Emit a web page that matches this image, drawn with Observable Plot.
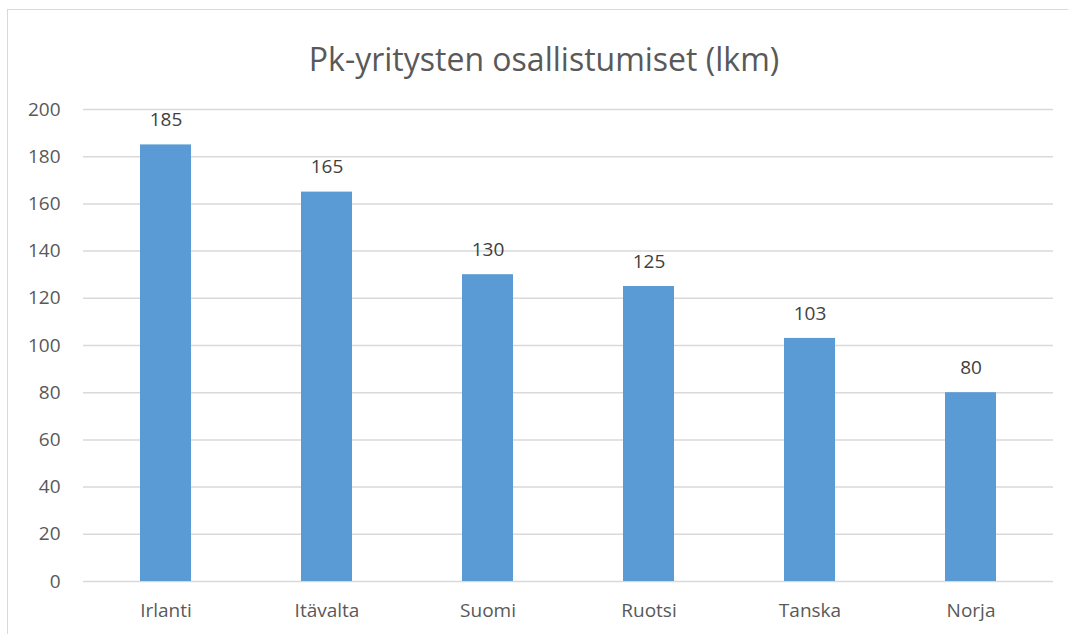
<!DOCTYPE html>
<html><head><meta charset="utf-8">
<script src="https://cdn.jsdelivr.net/npm/d3@7"></script>
<script src="https://cdn.jsdelivr.net/npm/@observablehq/plot@0.6"></script>
<style>
html,body{margin:0;padding:0;background:#fff;}
#wrap{position:relative;width:1068px;height:634px;overflow:hidden;font-family:"Open Sans",sans-serif;}
#frame{position:absolute;left:7px;top:9px;width:1100px;height:700px;border:1.5px solid #d9d9d9;box-sizing:border-box;}
#title{position:absolute;left:0;top:37px;width:1068px;padding-left:20px;box-sizing:border-box;text-align:center;font-size:32px;color:#595959;line-height:44px;}
#chart{position:absolute;left:0;top:90px;}
</style></head>
<body>
<div id="wrap"><div id="frame"></div><div id="title">Pk-yritysten osallistumiset (lkm)</div><div id="chart"></div></div>
<script>
const countries = ["Irlanti","Itävalta","Suomi","Ruotsi","Tanska","Norja"];
const values = [185,165,130,125,103,80];
const yTicks = [0,20,40,60,80,100,120,140,160,180,200];
const data = countries.map((c,i)=>({country:c, value:values[i]}));
const plot = Plot.plot({
  width:1068, height:544,
  marginLeft:83, marginRight:15, marginTop:19, marginBottom:53,
  style:{fontFamily:"Open Sans, sans-serif", fontSize:"19px", color:"#595959", background:"transparent"},
  x:{domain:countries, label:null, paddingInner:0.685, paddingOuter:0.3425, tickSize:0, tickPadding:22},
  y:{domain:[0,200], ticks:yTicks, label:null, tickSize:0, tickPadding:23},
  marks:[
    Plot.gridY(yTicks,{stroke:"#d9d9d9", strokeOpacity:1, strokeWidth:1.5}),
    Plot.barY(data,{x:"country", y:"value", fill:"#5b9bd5"}),
    Plot.text(data,{x:"country", y:"value", text:d=>String(d.value), dy:-25, fill:"#404040", fontSize:19}),
    Plot.axisX({tickSize:0, tickPadding:22, fontSize:19, fill:"#595959"}),
    Plot.axisY({ticks:yTicks, tickSize:0, tickPadding:23, fontSize:19, fill:"#595959"})
  ]
});
document.getElementById("chart").appendChild(plot);
</script>
</body></html>
